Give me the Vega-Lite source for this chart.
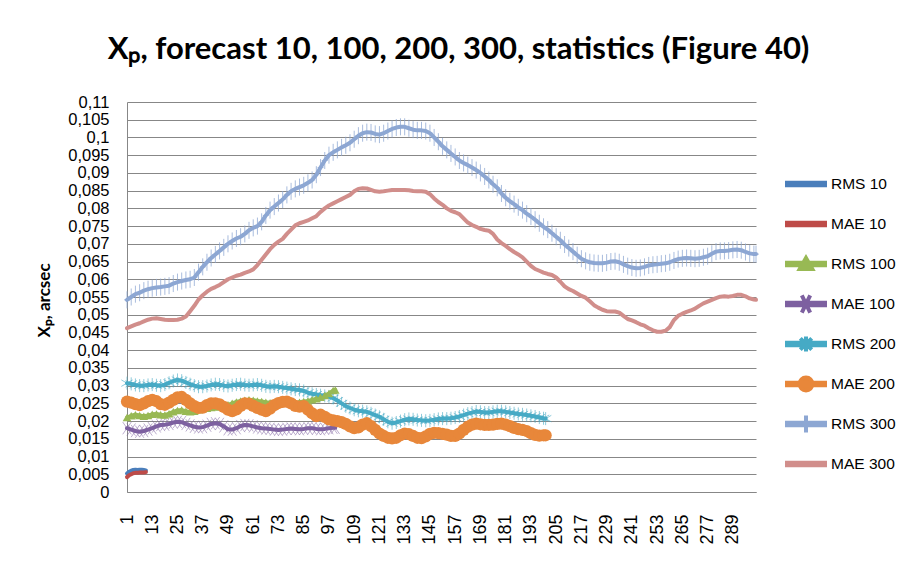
{
"$schema":"https://vega.github.io/schema/vega-lite/v6.json",
"width":629,"height":390,
"autosize":{"type":"none"},
"padding":{"left":127,"top":102,"right":149,"bottom":77},
"background":"white",
"title":{"text":"Xₚ, forecast 10, 100, 200, 300, statistics (Figure 40)","font":"Lato","fontSize":31,"fontWeight":"bold","color":"#000","anchor":"middle","frame":"group","dx":17,"offset":28},
"config":{"view":{"stroke":null}},
"data":{"values":[
{"s":"RMS 10","x":1,"y":0.0052},{"s":"RMS 10","x":2,"y":0.0057},{"s":"RMS 10","x":3,"y":0.006},{"s":"RMS 10","x":4,"y":0.0062},{"s":"RMS 10","x":5,"y":0.0063},{"s":"RMS 10","x":6,"y":0.0062},{"s":"RMS 10","x":7,"y":0.0063},{"s":"RMS 10","x":8,"y":0.0063},{"s":"RMS 10","x":9,"y":0.0062},{"s":"RMS 10","x":10,"y":0.0061},
{"s":"MAE 10","x":1,"y":0.0042},{"s":"MAE 10","x":2,"y":0.0047},{"s":"MAE 10","x":3,"y":0.005},{"s":"MAE 10","x":4,"y":0.0053},{"s":"MAE 10","x":5,"y":0.0054},{"s":"MAE 10","x":6,"y":0.0054},{"s":"MAE 10","x":7,"y":0.0055},{"s":"MAE 10","x":8,"y":0.0055},{"s":"MAE 10","x":9,"y":0.0055},{"s":"MAE 10","x":10,"y":0.0056},
{"s":"RMS 100","x":1,"y":0.021},{"s":"RMS 100","x":3,"y":0.0215},{"s":"RMS 100","x":5,"y":0.0218},{"s":"RMS 100","x":7,"y":0.0216},{"s":"RMS 100","x":9,"y":0.0214},{"s":"RMS 100","x":11,"y":0.0216},{"s":"RMS 100","x":13,"y":0.0219},{"s":"RMS 100","x":15,"y":0.022},{"s":"RMS 100","x":17,"y":0.0218},{"s":"RMS 100","x":19,"y":0.0217},{"s":"RMS 100","x":21,"y":0.0221},{"s":"RMS 100","x":23,"y":0.0226},{"s":"RMS 100","x":25,"y":0.023},{"s":"RMS 100","x":27,"y":0.0231},{"s":"RMS 100","x":29,"y":0.0228},{"s":"RMS 100","x":31,"y":0.0226},{"s":"RMS 100","x":33,"y":0.0228},{"s":"RMS 100","x":35,"y":0.0232},{"s":"RMS 100","x":37,"y":0.0235},{"s":"RMS 100","x":39,"y":0.0236},{"s":"RMS 100","x":41,"y":0.0238},{"s":"RMS 100","x":43,"y":0.024},{"s":"RMS 100","x":45,"y":0.0241},{"s":"RMS 100","x":47,"y":0.0243},{"s":"RMS 100","x":49,"y":0.0246},{"s":"RMS 100","x":51,"y":0.025},{"s":"RMS 100","x":53,"y":0.0254},{"s":"RMS 100","x":55,"y":0.0257},{"s":"RMS 100","x":57,"y":0.0259},{"s":"RMS 100","x":59,"y":0.026},{"s":"RMS 100","x":61,"y":0.0259},{"s":"RMS 100","x":63,"y":0.0257},{"s":"RMS 100","x":65,"y":0.0255},{"s":"RMS 100","x":67,"y":0.0253},{"s":"RMS 100","x":69,"y":0.0252},{"s":"RMS 100","x":71,"y":0.0253},{"s":"RMS 100","x":73,"y":0.0254},{"s":"RMS 100","x":75,"y":0.0253},{"s":"RMS 100","x":77,"y":0.0251},{"s":"RMS 100","x":79,"y":0.025},{"s":"RMS 100","x":81,"y":0.0251},{"s":"RMS 100","x":83,"y":0.0253},{"s":"RMS 100","x":85,"y":0.0255},{"s":"RMS 100","x":87,"y":0.0257},{"s":"RMS 100","x":89,"y":0.026},{"s":"RMS 100","x":91,"y":0.0263},{"s":"RMS 100","x":93,"y":0.0267},{"s":"RMS 100","x":95,"y":0.0272},{"s":"RMS 100","x":97,"y":0.0278},{"s":"RMS 100","x":99,"y":0.0286},{"s":"RMS 100","x":100,"y":0.0288},
{"s":"MAE 100","x":1,"y":0.018},{"s":"MAE 100","x":3,"y":0.0176},{"s":"MAE 100","x":5,"y":0.0172},{"s":"MAE 100","x":7,"y":0.017},{"s":"MAE 100","x":9,"y":0.0172},{"s":"MAE 100","x":11,"y":0.0176},{"s":"MAE 100","x":13,"y":0.018},{"s":"MAE 100","x":15,"y":0.0185},{"s":"MAE 100","x":17,"y":0.0189},{"s":"MAE 100","x":19,"y":0.019},{"s":"MAE 100","x":21,"y":0.0192},{"s":"MAE 100","x":23,"y":0.0196},{"s":"MAE 100","x":25,"y":0.0198},{"s":"MAE 100","x":27,"y":0.0197},{"s":"MAE 100","x":29,"y":0.0192},{"s":"MAE 100","x":31,"y":0.0188},{"s":"MAE 100","x":33,"y":0.0184},{"s":"MAE 100","x":35,"y":0.0182},{"s":"MAE 100","x":37,"y":0.0183},{"s":"MAE 100","x":39,"y":0.0187},{"s":"MAE 100","x":41,"y":0.0192},{"s":"MAE 100","x":43,"y":0.0194},{"s":"MAE 100","x":45,"y":0.0192},{"s":"MAE 100","x":47,"y":0.0185},{"s":"MAE 100","x":49,"y":0.0177},{"s":"MAE 100","x":51,"y":0.0176},{"s":"MAE 100","x":53,"y":0.018},{"s":"MAE 100","x":55,"y":0.0186},{"s":"MAE 100","x":57,"y":0.0189},{"s":"MAE 100","x":59,"y":0.0188},{"s":"MAE 100","x":61,"y":0.0185},{"s":"MAE 100","x":63,"y":0.0182},{"s":"MAE 100","x":65,"y":0.018},{"s":"MAE 100","x":67,"y":0.0179},{"s":"MAE 100","x":69,"y":0.0178},{"s":"MAE 100","x":71,"y":0.0176},{"s":"MAE 100","x":73,"y":0.0175},{"s":"MAE 100","x":75,"y":0.0176},{"s":"MAE 100","x":77,"y":0.0178},{"s":"MAE 100","x":79,"y":0.0179},{"s":"MAE 100","x":81,"y":0.0178},{"s":"MAE 100","x":83,"y":0.0177},{"s":"MAE 100","x":85,"y":0.0178},{"s":"MAE 100","x":87,"y":0.018},{"s":"MAE 100","x":89,"y":0.018},{"s":"MAE 100","x":91,"y":0.0178},{"s":"MAE 100","x":93,"y":0.0177},{"s":"MAE 100","x":95,"y":0.0178},{"s":"MAE 100","x":97,"y":0.018},{"s":"MAE 100","x":99,"y":0.0181},{"s":"MAE 100","x":100,"y":0.0181},
{"s":"RMS 200","x":1,"y":0.0307},{"s":"RMS 200","x":3,"y":0.0305},{"s":"RMS 200","x":5,"y":0.0302},{"s":"RMS 200","x":7,"y":0.03},{"s":"RMS 200","x":9,"y":0.03},{"s":"RMS 200","x":11,"y":0.0302},{"s":"RMS 200","x":13,"y":0.0303},{"s":"RMS 200","x":15,"y":0.0301},{"s":"RMS 200","x":17,"y":0.03},{"s":"RMS 200","x":19,"y":0.0303},{"s":"RMS 200","x":21,"y":0.0308},{"s":"RMS 200","x":23,"y":0.0313},{"s":"RMS 200","x":25,"y":0.0316},{"s":"RMS 200","x":27,"y":0.0314},{"s":"RMS 200","x":29,"y":0.0309},{"s":"RMS 200","x":31,"y":0.0304},{"s":"RMS 200","x":33,"y":0.03},{"s":"RMS 200","x":35,"y":0.0297},{"s":"RMS 200","x":37,"y":0.0297},{"s":"RMS 200","x":39,"y":0.0299},{"s":"RMS 200","x":41,"y":0.0302},{"s":"RMS 200","x":43,"y":0.0304},{"s":"RMS 200","x":45,"y":0.0303},{"s":"RMS 200","x":47,"y":0.03},{"s":"RMS 200","x":49,"y":0.0299},{"s":"RMS 200","x":51,"y":0.0301},{"s":"RMS 200","x":53,"y":0.0303},{"s":"RMS 200","x":55,"y":0.0304},{"s":"RMS 200","x":57,"y":0.0302},{"s":"RMS 200","x":59,"y":0.0301},{"s":"RMS 200","x":61,"y":0.0302},{"s":"RMS 200","x":63,"y":0.0303},{"s":"RMS 200","x":65,"y":0.0301},{"s":"RMS 200","x":67,"y":0.0298},{"s":"RMS 200","x":69,"y":0.0297},{"s":"RMS 200","x":71,"y":0.0298},{"s":"RMS 200","x":73,"y":0.0297},{"s":"RMS 200","x":75,"y":0.0295},{"s":"RMS 200","x":77,"y":0.0293},{"s":"RMS 200","x":79,"y":0.0291},{"s":"RMS 200","x":81,"y":0.0289},{"s":"RMS 200","x":83,"y":0.0288},{"s":"RMS 200","x":85,"y":0.0285},{"s":"RMS 200","x":87,"y":0.028},{"s":"RMS 200","x":89,"y":0.0277},{"s":"RMS 200","x":91,"y":0.0275},{"s":"RMS 200","x":93,"y":0.0273},{"s":"RMS 200","x":95,"y":0.0271},{"s":"RMS 200","x":97,"y":0.0269},{"s":"RMS 200","x":99,"y":0.0265},{"s":"RMS 200","x":101,"y":0.0258},{"s":"RMS 200","x":103,"y":0.025},{"s":"RMS 200","x":105,"y":0.0242},{"s":"RMS 200","x":107,"y":0.0237},{"s":"RMS 200","x":109,"y":0.0232},{"s":"RMS 200","x":111,"y":0.0229},{"s":"RMS 200","x":113,"y":0.0228},{"s":"RMS 200","x":115,"y":0.0226},{"s":"RMS 200","x":117,"y":0.0222},{"s":"RMS 200","x":119,"y":0.0217},{"s":"RMS 200","x":121,"y":0.0212},{"s":"RMS 200","x":123,"y":0.0205},{"s":"RMS 200","x":125,"y":0.0198},{"s":"RMS 200","x":127,"y":0.0194},{"s":"RMS 200","x":129,"y":0.0196},{"s":"RMS 200","x":131,"y":0.02},{"s":"RMS 200","x":133,"y":0.0204},{"s":"RMS 200","x":135,"y":0.0206},{"s":"RMS 200","x":137,"y":0.0205},{"s":"RMS 200","x":139,"y":0.0203},{"s":"RMS 200","x":141,"y":0.0202},{"s":"RMS 200","x":143,"y":0.0201},{"s":"RMS 200","x":145,"y":0.0202},{"s":"RMS 200","x":147,"y":0.0204},{"s":"RMS 200","x":149,"y":0.0206},{"s":"RMS 200","x":151,"y":0.0207},{"s":"RMS 200","x":153,"y":0.0207},{"s":"RMS 200","x":155,"y":0.0208},{"s":"RMS 200","x":157,"y":0.021},{"s":"RMS 200","x":159,"y":0.0213},{"s":"RMS 200","x":161,"y":0.0217},{"s":"RMS 200","x":163,"y":0.0221},{"s":"RMS 200","x":165,"y":0.0224},{"s":"RMS 200","x":167,"y":0.0227},{"s":"RMS 200","x":169,"y":0.0226},{"s":"RMS 200","x":171,"y":0.0224},{"s":"RMS 200","x":173,"y":0.0224},{"s":"RMS 200","x":175,"y":0.0226},{"s":"RMS 200","x":177,"y":0.0228},{"s":"RMS 200","x":179,"y":0.0228},{"s":"RMS 200","x":181,"y":0.0226},{"s":"RMS 200","x":183,"y":0.0224},{"s":"RMS 200","x":185,"y":0.0222},{"s":"RMS 200","x":187,"y":0.022},{"s":"RMS 200","x":189,"y":0.0219},{"s":"RMS 200","x":191,"y":0.0217},{"s":"RMS 200","x":193,"y":0.0215},{"s":"RMS 200","x":195,"y":0.0213},{"s":"RMS 200","x":197,"y":0.021},{"s":"RMS 200","x":199,"y":0.0208},{"s":"RMS 200","x":200,"y":0.0207},
{"s":"MAE 200","x":1,"y":0.0255},{"s":"MAE 200","x":3,"y":0.0252},{"s":"MAE 200","x":5,"y":0.0248},{"s":"MAE 200","x":7,"y":0.0245},{"s":"MAE 200","x":9,"y":0.025},{"s":"MAE 200","x":11,"y":0.0256},{"s":"MAE 200","x":13,"y":0.026},{"s":"MAE 200","x":15,"y":0.0256},{"s":"MAE 200","x":17,"y":0.0248},{"s":"MAE 200","x":19,"y":0.0246},{"s":"MAE 200","x":21,"y":0.0252},{"s":"MAE 200","x":23,"y":0.026},{"s":"MAE 200","x":25,"y":0.0267},{"s":"MAE 200","x":27,"y":0.0268},{"s":"MAE 200","x":29,"y":0.026},{"s":"MAE 200","x":31,"y":0.025},{"s":"MAE 200","x":33,"y":0.0242},{"s":"MAE 200","x":35,"y":0.0237},{"s":"MAE 200","x":37,"y":0.0238},{"s":"MAE 200","x":39,"y":0.0245},{"s":"MAE 200","x":41,"y":0.025},{"s":"MAE 200","x":43,"y":0.025},{"s":"MAE 200","x":45,"y":0.0247},{"s":"MAE 200","x":47,"y":0.024},{"s":"MAE 200","x":49,"y":0.0232},{"s":"MAE 200","x":51,"y":0.0228},{"s":"MAE 200","x":53,"y":0.0233},{"s":"MAE 200","x":55,"y":0.0243},{"s":"MAE 200","x":57,"y":0.025},{"s":"MAE 200","x":59,"y":0.0249},{"s":"MAE 200","x":61,"y":0.0243},{"s":"MAE 200","x":63,"y":0.0237},{"s":"MAE 200","x":65,"y":0.0232},{"s":"MAE 200","x":67,"y":0.0228},{"s":"MAE 200","x":69,"y":0.0235},{"s":"MAE 200","x":71,"y":0.0245},{"s":"MAE 200","x":73,"y":0.0251},{"s":"MAE 200","x":75,"y":0.0254},{"s":"MAE 200","x":77,"y":0.0255},{"s":"MAE 200","x":79,"y":0.025},{"s":"MAE 200","x":81,"y":0.0243},{"s":"MAE 200","x":83,"y":0.0241},{"s":"MAE 200","x":85,"y":0.0242},{"s":"MAE 200","x":87,"y":0.0232},{"s":"MAE 200","x":89,"y":0.0222},{"s":"MAE 200","x":91,"y":0.0214},{"s":"MAE 200","x":93,"y":0.0218},{"s":"MAE 200","x":95,"y":0.0212},{"s":"MAE 200","x":97,"y":0.0205},{"s":"MAE 200","x":99,"y":0.0202},{"s":"MAE 200","x":101,"y":0.02},{"s":"MAE 200","x":103,"y":0.0197},{"s":"MAE 200","x":105,"y":0.0192},{"s":"MAE 200","x":107,"y":0.0185},{"s":"MAE 200","x":109,"y":0.018},{"s":"MAE 200","x":111,"y":0.0182},{"s":"MAE 200","x":113,"y":0.019},{"s":"MAE 200","x":115,"y":0.0194},{"s":"MAE 200","x":117,"y":0.0186},{"s":"MAE 200","x":119,"y":0.0175},{"s":"MAE 200","x":121,"y":0.0165},{"s":"MAE 200","x":123,"y":0.0158},{"s":"MAE 200","x":125,"y":0.0153},{"s":"MAE 200","x":127,"y":0.0151},{"s":"MAE 200","x":129,"y":0.0153},{"s":"MAE 200","x":131,"y":0.016},{"s":"MAE 200","x":133,"y":0.0165},{"s":"MAE 200","x":135,"y":0.0163},{"s":"MAE 200","x":137,"y":0.0158},{"s":"MAE 200","x":139,"y":0.0153},{"s":"MAE 200","x":141,"y":0.0152},{"s":"MAE 200","x":143,"y":0.0157},{"s":"MAE 200","x":145,"y":0.0164},{"s":"MAE 200","x":147,"y":0.0167},{"s":"MAE 200","x":149,"y":0.0166},{"s":"MAE 200","x":151,"y":0.0164},{"s":"MAE 200","x":153,"y":0.0162},{"s":"MAE 200","x":155,"y":0.0158},{"s":"MAE 200","x":157,"y":0.0158},{"s":"MAE 200","x":159,"y":0.0165},{"s":"MAE 200","x":161,"y":0.0175},{"s":"MAE 200","x":163,"y":0.0184},{"s":"MAE 200","x":165,"y":0.019},{"s":"MAE 200","x":167,"y":0.0193},{"s":"MAE 200","x":169,"y":0.0191},{"s":"MAE 200","x":171,"y":0.0189},{"s":"MAE 200","x":173,"y":0.0189},{"s":"MAE 200","x":175,"y":0.019},{"s":"MAE 200","x":177,"y":0.0192},{"s":"MAE 200","x":179,"y":0.0193},{"s":"MAE 200","x":181,"y":0.019},{"s":"MAE 200","x":183,"y":0.0186},{"s":"MAE 200","x":185,"y":0.0181},{"s":"MAE 200","x":187,"y":0.0177},{"s":"MAE 200","x":189,"y":0.0175},{"s":"MAE 200","x":191,"y":0.0172},{"s":"MAE 200","x":193,"y":0.0166},{"s":"MAE 200","x":195,"y":0.0161},{"s":"MAE 200","x":197,"y":0.0159},{"s":"MAE 200","x":199,"y":0.016},{"s":"MAE 200","x":200,"y":0.016},
{"s":"RMS 300","x":1,"y":0.0542},{"s":"RMS 300","x":3,"y":0.055},{"s":"RMS 300","x":5,"y":0.0558},{"s":"RMS 300","x":7,"y":0.0562},{"s":"RMS 300","x":9,"y":0.0568},{"s":"RMS 300","x":11,"y":0.0572},{"s":"RMS 300","x":13,"y":0.0575},{"s":"RMS 300","x":15,"y":0.0577},{"s":"RMS 300","x":17,"y":0.0578},{"s":"RMS 300","x":19,"y":0.058},{"s":"RMS 300","x":21,"y":0.0582},{"s":"RMS 300","x":23,"y":0.0588},{"s":"RMS 300","x":25,"y":0.0592},{"s":"RMS 300","x":27,"y":0.0595},{"s":"RMS 300","x":29,"y":0.0598},{"s":"RMS 300","x":31,"y":0.06},{"s":"RMS 300","x":33,"y":0.0605},{"s":"RMS 300","x":35,"y":0.062},{"s":"RMS 300","x":37,"y":0.0635},{"s":"RMS 300","x":39,"y":0.0648},{"s":"RMS 300","x":41,"y":0.066},{"s":"RMS 300","x":43,"y":0.067},{"s":"RMS 300","x":45,"y":0.068},{"s":"RMS 300","x":47,"y":0.069},{"s":"RMS 300","x":49,"y":0.07},{"s":"RMS 300","x":51,"y":0.0708},{"s":"RMS 300","x":53,"y":0.0715},{"s":"RMS 300","x":55,"y":0.072},{"s":"RMS 300","x":57,"y":0.0728},{"s":"RMS 300","x":59,"y":0.0738},{"s":"RMS 300","x":61,"y":0.0745},{"s":"RMS 300","x":63,"y":0.075},{"s":"RMS 300","x":65,"y":0.0762},{"s":"RMS 300","x":67,"y":0.078},{"s":"RMS 300","x":69,"y":0.0795},{"s":"RMS 300","x":71,"y":0.0805},{"s":"RMS 300","x":73,"y":0.0815},{"s":"RMS 300","x":75,"y":0.0825},{"s":"RMS 300","x":77,"y":0.0838},{"s":"RMS 300","x":79,"y":0.0848},{"s":"RMS 300","x":81,"y":0.0855},{"s":"RMS 300","x":83,"y":0.086},{"s":"RMS 300","x":85,"y":0.0865},{"s":"RMS 300","x":87,"y":0.0872},{"s":"RMS 300","x":89,"y":0.088},{"s":"RMS 300","x":91,"y":0.0895},{"s":"RMS 300","x":93,"y":0.0915},{"s":"RMS 300","x":95,"y":0.0935},{"s":"RMS 300","x":97,"y":0.095},{"s":"RMS 300","x":99,"y":0.0958},{"s":"RMS 300","x":101,"y":0.0965},{"s":"RMS 300","x":103,"y":0.0972},{"s":"RMS 300","x":105,"y":0.0978},{"s":"RMS 300","x":107,"y":0.0985},{"s":"RMS 300","x":109,"y":0.0995},{"s":"RMS 300","x":111,"y":0.1005},{"s":"RMS 300","x":113,"y":0.1012},{"s":"RMS 300","x":115,"y":0.1015},{"s":"RMS 300","x":117,"y":0.1014},{"s":"RMS 300","x":119,"y":0.101},{"s":"RMS 300","x":121,"y":0.1008},{"s":"RMS 300","x":123,"y":0.1012},{"s":"RMS 300","x":125,"y":0.1018},{"s":"RMS 300","x":127,"y":0.1024},{"s":"RMS 300","x":129,"y":0.1028},{"s":"RMS 300","x":131,"y":0.103},{"s":"RMS 300","x":133,"y":0.103},{"s":"RMS 300","x":135,"y":0.1026},{"s":"RMS 300","x":137,"y":0.1022},{"s":"RMS 300","x":139,"y":0.102},{"s":"RMS 300","x":141,"y":0.102},{"s":"RMS 300","x":143,"y":0.1018},{"s":"RMS 300","x":145,"y":0.1012},{"s":"RMS 300","x":147,"y":0.1},{"s":"RMS 300","x":149,"y":0.0988},{"s":"RMS 300","x":151,"y":0.0975},{"s":"RMS 300","x":153,"y":0.0965},{"s":"RMS 300","x":155,"y":0.0955},{"s":"RMS 300","x":157,"y":0.0945},{"s":"RMS 300","x":159,"y":0.0935},{"s":"RMS 300","x":161,"y":0.0928},{"s":"RMS 300","x":163,"y":0.0922},{"s":"RMS 300","x":165,"y":0.0915},{"s":"RMS 300","x":167,"y":0.0908},{"s":"RMS 300","x":169,"y":0.09},{"s":"RMS 300","x":171,"y":0.089},{"s":"RMS 300","x":173,"y":0.088},{"s":"RMS 300","x":175,"y":0.0868},{"s":"RMS 300","x":177,"y":0.0858},{"s":"RMS 300","x":179,"y":0.0842},{"s":"RMS 300","x":181,"y":0.083},{"s":"RMS 300","x":183,"y":0.082},{"s":"RMS 300","x":185,"y":0.0812},{"s":"RMS 300","x":187,"y":0.0803},{"s":"RMS 300","x":189,"y":0.0795},{"s":"RMS 300","x":191,"y":0.0785},{"s":"RMS 300","x":193,"y":0.0777},{"s":"RMS 300","x":195,"y":0.0768},{"s":"RMS 300","x":197,"y":0.0758},{"s":"RMS 300","x":199,"y":0.0748},{"s":"RMS 300","x":201,"y":0.074},{"s":"RMS 300","x":203,"y":0.073},{"s":"RMS 300","x":205,"y":0.072},{"s":"RMS 300","x":207,"y":0.071},{"s":"RMS 300","x":209,"y":0.0698},{"s":"RMS 300","x":211,"y":0.0688},{"s":"RMS 300","x":213,"y":0.0678},{"s":"RMS 300","x":215,"y":0.0668},{"s":"RMS 300","x":217,"y":0.0658},{"s":"RMS 300","x":219,"y":0.0652},{"s":"RMS 300","x":221,"y":0.0648},{"s":"RMS 300","x":223,"y":0.0646},{"s":"RMS 300","x":225,"y":0.0645},{"s":"RMS 300","x":227,"y":0.0645},{"s":"RMS 300","x":229,"y":0.0647},{"s":"RMS 300","x":231,"y":0.065},{"s":"RMS 300","x":233,"y":0.0651},{"s":"RMS 300","x":235,"y":0.0648},{"s":"RMS 300","x":237,"y":0.0642},{"s":"RMS 300","x":239,"y":0.0637},{"s":"RMS 300","x":241,"y":0.0633},{"s":"RMS 300","x":243,"y":0.0631},{"s":"RMS 300","x":245,"y":0.0632},{"s":"RMS 300","x":247,"y":0.0635},{"s":"RMS 300","x":249,"y":0.0639},{"s":"RMS 300","x":251,"y":0.0641},{"s":"RMS 300","x":253,"y":0.0642},{"s":"RMS 300","x":255,"y":0.0644},{"s":"RMS 300","x":257,"y":0.0645},{"s":"RMS 300","x":259,"y":0.0648},{"s":"RMS 300","x":261,"y":0.0653},{"s":"RMS 300","x":263,"y":0.0657},{"s":"RMS 300","x":265,"y":0.0659},{"s":"RMS 300","x":267,"y":0.066},{"s":"RMS 300","x":269,"y":0.0659},{"s":"RMS 300","x":271,"y":0.0658},{"s":"RMS 300","x":273,"y":0.0659},{"s":"RMS 300","x":275,"y":0.0662},{"s":"RMS 300","x":277,"y":0.0665},{"s":"RMS 300","x":279,"y":0.0672},{"s":"RMS 300","x":281,"y":0.0678},{"s":"RMS 300","x":283,"y":0.068},{"s":"RMS 300","x":285,"y":0.068},{"s":"RMS 300","x":287,"y":0.0681},{"s":"RMS 300","x":289,"y":0.0683},{"s":"RMS 300","x":291,"y":0.0684},{"s":"RMS 300","x":293,"y":0.0682},{"s":"RMS 300","x":295,"y":0.0677},{"s":"RMS 300","x":297,"y":0.0673},{"s":"RMS 300","x":299,"y":0.0671},{"s":"RMS 300","x":300,"y":0.0671},
{"s":"MAE 300","x":1,"y":0.0462},{"s":"MAE 300","x":3,"y":0.0467},{"s":"MAE 300","x":5,"y":0.0472},{"s":"MAE 300","x":7,"y":0.0476},{"s":"MAE 300","x":9,"y":0.0481},{"s":"MAE 300","x":11,"y":0.0486},{"s":"MAE 300","x":13,"y":0.0489},{"s":"MAE 300","x":15,"y":0.049},{"s":"MAE 300","x":17,"y":0.0488},{"s":"MAE 300","x":19,"y":0.0486},{"s":"MAE 300","x":21,"y":0.0485},{"s":"MAE 300","x":23,"y":0.0485},{"s":"MAE 300","x":25,"y":0.0486},{"s":"MAE 300","x":27,"y":0.0489},{"s":"MAE 300","x":29,"y":0.0495},{"s":"MAE 300","x":31,"y":0.051},{"s":"MAE 300","x":33,"y":0.0525},{"s":"MAE 300","x":35,"y":0.0543},{"s":"MAE 300","x":37,"y":0.0555},{"s":"MAE 300","x":39,"y":0.0565},{"s":"MAE 300","x":41,"y":0.0573},{"s":"MAE 300","x":43,"y":0.0578},{"s":"MAE 300","x":45,"y":0.0584},{"s":"MAE 300","x":47,"y":0.0592},{"s":"MAE 300","x":49,"y":0.06},{"s":"MAE 300","x":51,"y":0.0605},{"s":"MAE 300","x":53,"y":0.061},{"s":"MAE 300","x":55,"y":0.0613},{"s":"MAE 300","x":57,"y":0.0618},{"s":"MAE 300","x":59,"y":0.0622},{"s":"MAE 300","x":61,"y":0.0628},{"s":"MAE 300","x":63,"y":0.064},{"s":"MAE 300","x":65,"y":0.0655},{"s":"MAE 300","x":67,"y":0.067},{"s":"MAE 300","x":69,"y":0.0685},{"s":"MAE 300","x":71,"y":0.0697},{"s":"MAE 300","x":73,"y":0.0706},{"s":"MAE 300","x":75,"y":0.0714},{"s":"MAE 300","x":77,"y":0.0728},{"s":"MAE 300","x":79,"y":0.074},{"s":"MAE 300","x":81,"y":0.0752},{"s":"MAE 300","x":83,"y":0.0758},{"s":"MAE 300","x":85,"y":0.0762},{"s":"MAE 300","x":87,"y":0.0766},{"s":"MAE 300","x":89,"y":0.0772},{"s":"MAE 300","x":91,"y":0.0778},{"s":"MAE 300","x":93,"y":0.079},{"s":"MAE 300","x":95,"y":0.08},{"s":"MAE 300","x":97,"y":0.0808},{"s":"MAE 300","x":99,"y":0.0814},{"s":"MAE 300","x":101,"y":0.082},{"s":"MAE 300","x":103,"y":0.0826},{"s":"MAE 300","x":105,"y":0.0832},{"s":"MAE 300","x":107,"y":0.0838},{"s":"MAE 300","x":109,"y":0.0848},{"s":"MAE 300","x":111,"y":0.0855},{"s":"MAE 300","x":113,"y":0.0857},{"s":"MAE 300","x":115,"y":0.0856},{"s":"MAE 300","x":117,"y":0.0852},{"s":"MAE 300","x":119,"y":0.0848},{"s":"MAE 300","x":121,"y":0.0847},{"s":"MAE 300","x":123,"y":0.0848},{"s":"MAE 300","x":125,"y":0.085},{"s":"MAE 300","x":127,"y":0.0852},{"s":"MAE 300","x":129,"y":0.0852},{"s":"MAE 300","x":131,"y":0.0852},{"s":"MAE 300","x":133,"y":0.0852},{"s":"MAE 300","x":135,"y":0.0851},{"s":"MAE 300","x":137,"y":0.0849},{"s":"MAE 300","x":139,"y":0.0848},{"s":"MAE 300","x":141,"y":0.0848},{"s":"MAE 300","x":143,"y":0.0847},{"s":"MAE 300","x":145,"y":0.084},{"s":"MAE 300","x":147,"y":0.0828},{"s":"MAE 300","x":149,"y":0.0818},{"s":"MAE 300","x":151,"y":0.081},{"s":"MAE 300","x":153,"y":0.08},{"s":"MAE 300","x":155,"y":0.0793},{"s":"MAE 300","x":157,"y":0.0789},{"s":"MAE 300","x":159,"y":0.0784},{"s":"MAE 300","x":161,"y":0.0772},{"s":"MAE 300","x":163,"y":0.076},{"s":"MAE 300","x":165,"y":0.0753},{"s":"MAE 300","x":167,"y":0.0748},{"s":"MAE 300","x":169,"y":0.0742},{"s":"MAE 300","x":171,"y":0.0739},{"s":"MAE 300","x":173,"y":0.0737},{"s":"MAE 300","x":175,"y":0.0728},{"s":"MAE 300","x":177,"y":0.0712},{"s":"MAE 300","x":179,"y":0.0702},{"s":"MAE 300","x":181,"y":0.0694},{"s":"MAE 300","x":183,"y":0.0685},{"s":"MAE 300","x":185,"y":0.0677},{"s":"MAE 300","x":187,"y":0.067},{"s":"MAE 300","x":189,"y":0.0662},{"s":"MAE 300","x":191,"y":0.065},{"s":"MAE 300","x":193,"y":0.0638},{"s":"MAE 300","x":195,"y":0.0629},{"s":"MAE 300","x":197,"y":0.0624},{"s":"MAE 300","x":199,"y":0.0619},{"s":"MAE 300","x":201,"y":0.0615},{"s":"MAE 300","x":203,"y":0.0612},{"s":"MAE 300","x":205,"y":0.0605},{"s":"MAE 300","x":207,"y":0.0593},{"s":"MAE 300","x":209,"y":0.058},{"s":"MAE 300","x":211,"y":0.0572},{"s":"MAE 300","x":213,"y":0.0567},{"s":"MAE 300","x":215,"y":0.056},{"s":"MAE 300","x":217,"y":0.0553},{"s":"MAE 300","x":219,"y":0.0548},{"s":"MAE 300","x":221,"y":0.0538},{"s":"MAE 300","x":223,"y":0.0527},{"s":"MAE 300","x":225,"y":0.052},{"s":"MAE 300","x":227,"y":0.0514},{"s":"MAE 300","x":229,"y":0.051},{"s":"MAE 300","x":231,"y":0.0509},{"s":"MAE 300","x":233,"y":0.0509},{"s":"MAE 300","x":235,"y":0.0506},{"s":"MAE 300","x":237,"y":0.0497},{"s":"MAE 300","x":239,"y":0.0488},{"s":"MAE 300","x":241,"y":0.0484},{"s":"MAE 300","x":243,"y":0.0479},{"s":"MAE 300","x":245,"y":0.0473},{"s":"MAE 300","x":247,"y":0.0469},{"s":"MAE 300","x":249,"y":0.0462},{"s":"MAE 300","x":251,"y":0.0456},{"s":"MAE 300","x":253,"y":0.0452},{"s":"MAE 300","x":255,"y":0.0452},{"s":"MAE 300","x":257,"y":0.0455},{"s":"MAE 300","x":259,"y":0.0465},{"s":"MAE 300","x":261,"y":0.0485},{"s":"MAE 300","x":263,"y":0.0497},{"s":"MAE 300","x":265,"y":0.0503},{"s":"MAE 300","x":267,"y":0.0508},{"s":"MAE 300","x":269,"y":0.0512},{"s":"MAE 300","x":271,"y":0.0517},{"s":"MAE 300","x":273,"y":0.0525},{"s":"MAE 300","x":275,"y":0.0532},{"s":"MAE 300","x":277,"y":0.0537},{"s":"MAE 300","x":279,"y":0.0542},{"s":"MAE 300","x":281,"y":0.0547},{"s":"MAE 300","x":283,"y":0.0551},{"s":"MAE 300","x":285,"y":0.0552},{"s":"MAE 300","x":287,"y":0.0551},{"s":"MAE 300","x":289,"y":0.0553},{"s":"MAE 300","x":291,"y":0.0556},{"s":"MAE 300","x":293,"y":0.0556},{"s":"MAE 300","x":295,"y":0.0552},{"s":"MAE 300","x":297,"y":0.0546},{"s":"MAE 300","x":299,"y":0.0543},{"s":"MAE 300","x":300,"y":0.0542}
]},
"encoding":{
"x":{"field":"x","type":"quantitative","scale":{"domain":[1,300],"nice":false,"zero":false},
 "axis":{"title":null,"values":[1,13,25,37,49,61,73,85,97,109,121,133,145,157,169,181,193,205,217,229,241,253,265,277,289],"labelAngle":-90,"grid":false,"ticks":false,"domain":true,"domainColor":"#878787","labelPadding":22,"labelFont":"Liberation Sans","labelFontSize":18,"labelColor":"#000","labelOverlap":false,"labelFlush":false}},
"y":{"field":"y","type":"quantitative","scale":{"domain":[0,0.11],"nice":false,"zero":true},
 "axis":{"title":"Xₚ, arcsec","values":[0,0.005,0.01,0.015,0.02,0.025,0.03,0.035,0.04,0.045,0.05,0.055,0.06,0.065,0.07,0.075,0.08,0.085,0.09,0.095,0.1,0.105,0.11],"labelExpr":"replace(format(datum.value,'.3~f'),'.',',')","grid":true,"gridColor":"#878787","gridWidth":1,"domainColor":"#878787","ticks":false,"labelPadding":18,"labelFont":"Liberation Sans","labelFontSize":16.5,"labelColor":"#000","labelOverlap":false,"labelFlush":false,"titleFont":"Lato","titleFontSize":17,"titleFontWeight":"bold","titleColor":"#000","titleX":-83,"titleY":198,"titleAlign":"center","titleBaseline":"middle","titleAngle":-90}},
"color":{"field":"s","type":"nominal",
 "scale":{"domain":["RMS 10","MAE 10","RMS 100","MAE 100","RMS 200","MAE 200","RMS 300","MAE 300"],"range":["#4A7EBB","#BE4B48","#98B954","#7D60A0","#46AAC5","#E8873A","#8DA7D3","#D18E8B"]},
 "legend":{"title":null,"orient":"none","legendX":658,"legendY":61,"padding":0,"rowPadding":2,"gridAlign":"all","symbolSize":1444,"labelOffset":4,"labelFont":"Liberation Sans","labelFontSize":15.5,"labelColor":"#000","labelLimit":200,
  "encode":{"symbols":{"update":{
   "shape":{"signal":"datum.value === 'RMS 100' ? 'M-1,-0.07H1V0.07H-1ZM0,-0.32L0.33,0.26H-0.33Z' : datum.value === 'MAE 100' ? 'M-1,-0.07H1V0.07H-1ZM-0.22,-0.45L0.22,0.45M-0.22,0.45L0.22,-0.45' : datum.value === 'RMS 200' ? 'M-1,-0.07H1V0.07H-1ZM0,-0.4V0.4M-0.3,-0.3L0.3,0.3M-0.3,0.3L0.3,-0.3' : datum.value === 'MAE 200' ? 'M-1,-0.07H1V0.07H-1ZM0.34,0A0.34,0.34,0,1,1,-0.34,0A0.34,0.34,0,1,1,0.34,0Z' : datum.value === 'RMS 300' ? 'M-1,-0.07H1V0.07H-1ZM0,-0.45V0.45' : 'M-1,-0.07H1V0.07H-1Z'"},
   "fill":{"signal":"scale('color', datum.value)"},
   "stroke":{"signal":"scale('color', datum.value)"},
   "strokeWidth":{"value":1.5},
   "opacity":{"value":1},
   "size":{"value":1444}}}}}}
},
"layer":[
 {"mark":{"type":"line","strokeJoin":"round","strokeCap":"round"},
  "encoding":{"strokeWidth":{"field":"s","type":"nominal","scale":{"domain":["RMS 10","MAE 10","RMS 100","MAE 100","RMS 200","MAE 200","RMS 300","MAE 300"],"range":[4,4,3,4,3,4,3.5,8]},"legend":null}}},
 {"transform":[{"filter":"datum.s === 'MAE 100'"}],"mark":{"type":"point","shape":"M-0.7,-1L0.7,1M-0.7,1L0.7,-1","size":150,"strokeWidth":1,"opacity":0.5,"filled":false}},
 {"transform":[{"filter":"datum.s === 'RMS 200'"}],"mark":{"type":"point","shape":"M0,-1V1M-0.87,-0.5L0.87,0.5M-0.87,0.5L0.87,-0.5","size":170,"strokeWidth":1,"opacity":0.6,"filled":false}},
 {"transform":[{"filter":"datum.s === 'RMS 300'"}],"mark":{"type":"point","shape":"M0,-1V1M-0.35,0H0.35","size":290,"strokeWidth":1,"opacity":0.75,"filled":false}},
 {"transform":[{"filter":"datum.s === 'RMS 100'"}],"mark":{"type":"point","shape":"triangle-up","size":75,"filled":true,"opacity":1}},
 {"transform":[{"filter":"datum.s === 'MAE 200'"}],"mark":{"type":"point","shape":"circle","size":150,"filled":true,"opacity":1}}
]
}
